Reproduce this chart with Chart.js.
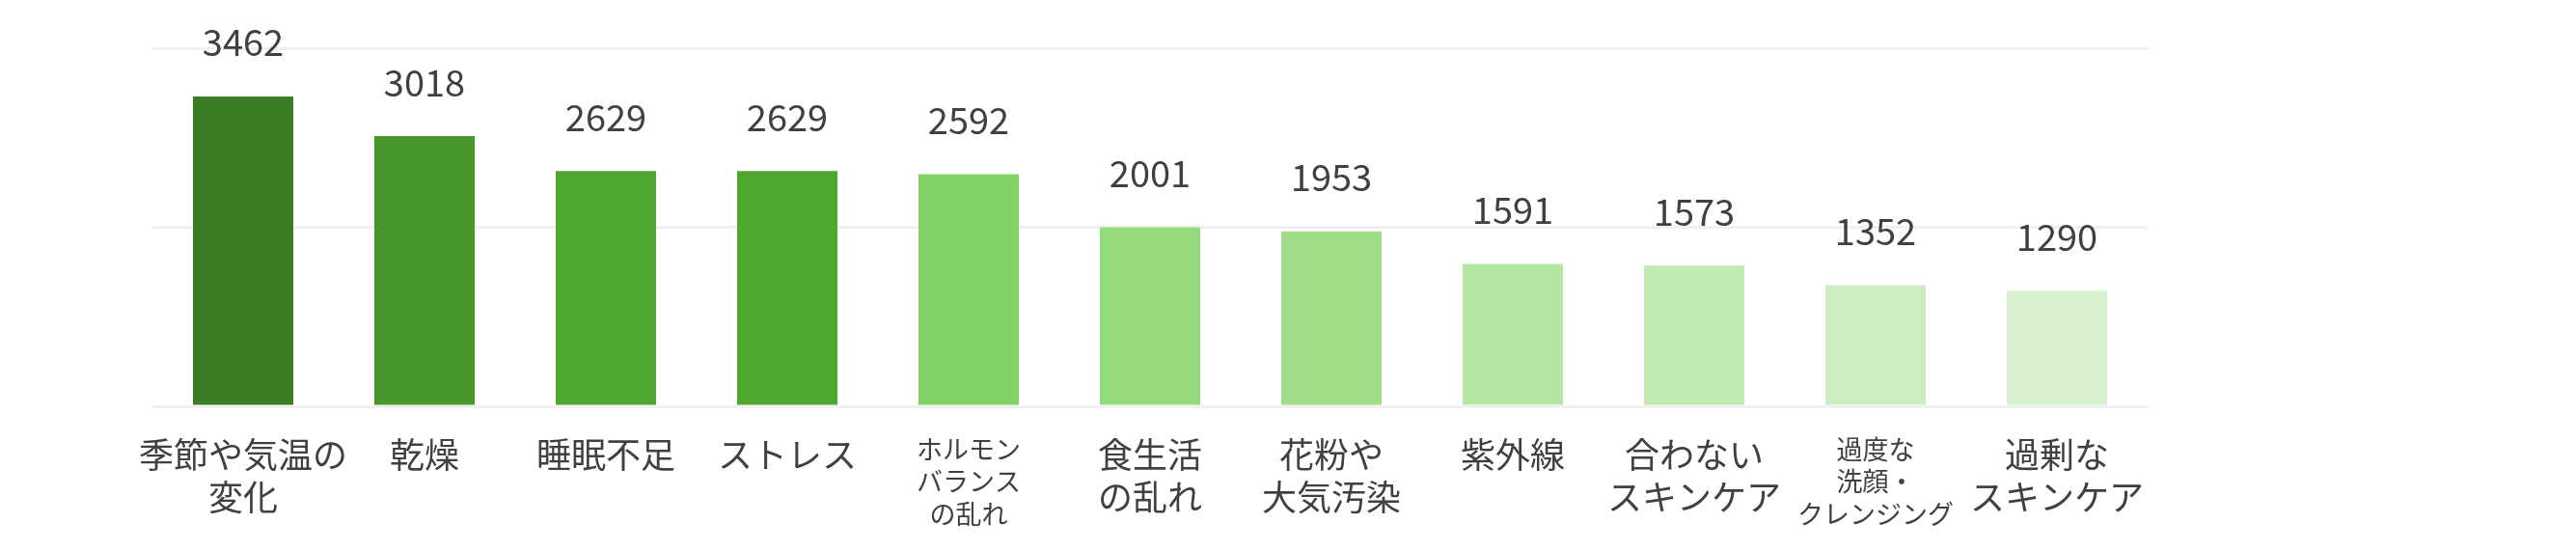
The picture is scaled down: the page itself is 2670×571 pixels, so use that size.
<!DOCTYPE html>
<html>
<head>
<meta charset="utf-8">
<script src="https://cdn.jsdelivr.net/npm/chart.js@4/dist/chart.umd.min.js"></script>
<style>
  html, body { margin: 0; padding: 0; background: #ffffff; }
  #wrap { width: 2670px; height: 571px; position: relative; }
</style>
</head>
<body>
<div id="wrap"><canvas id="c" width="2670" height="571"></canvas></div>
<script>
const categories = [
  ['季節や気温の', '変化'],
  '乾燥',
  '睡眠不足',
  'ストレス',
  ['ホルモン', 'バランス', 'の乱れ'],
  ['食生活', 'の乱れ'],
  ['花粉や', '大気汚染'],
  '紫外線',
  ['合わない', 'スキンケア'],
  ['過度な', '洗顔・', 'クレンジング'],
  ['過剰な', 'スキンケア']
];
const values = [3462, 3018, 2629, 2629, 2592, 2001, 1953, 1591, 1573, 1352, 1290];
const barColors = ['#3b7d23', '#47962a', '#4ea72e', '#4ea72e', '#83d265', '#95db7c',
                   '#a0de8a', '#b4e6a2', '#c2eab3', '#cdeec2', '#d8f2cf'];
const smallLabelIdx = [4, 9];
const yMax = 4000;
const yStep = 2000;

const FONT = '"Noto Sans CJK JP", "Noto Sans", sans-serif';

const valueLabels = {
  id: 'valueLabels',
  afterDatasetsDraw(chart) {
    const ctx = chart.ctx;
    const meta = chart.getDatasetMeta(0);
    ctx.save();
    ctx.font = '38px ' + FONT;
    ctx.fillStyle = '#404040';
    ctx.textAlign = 'center';
    ctx.textBaseline = 'middle';
    meta.data.forEach((bar, i) => {
      ctx.fillText(String(values[i]), bar.x, bar.y - 56);
    });
    ctx.restore();
  }
};

new Chart(document.getElementById('c'), {
  type: 'bar',
  data: {
    labels: categories,
    datasets: [{
      data: values,
      backgroundColor: barColors,
      borderWidth: 0,
      barPercentage: 0.553,
      categoryPercentage: 1.0
    }]
  },
  options: {
    responsive: false,
    animation: false,
    devicePixelRatio: 1,
    layout: { padding: { left: 158, right: 444, top: 50, bottom: 0 } },
    plugins: {
      legend: { display: false },
      tooltip: { enabled: false }
    },
    scales: {
      x: {
        grid: { display: false, drawTicks: false },
        border: { display: false },
        ticks: {
          color: '#404040',
          padding: 28,
          maxRotation: 0,
          autoSkip: false,
          font: (ctx) => {
            const small = smallLabelIdx.includes(ctx.index);
            return { family: FONT, size: small ? 27 : 36, lineHeight: small ? 1.24 : 1.22 };
          }
        },
        afterFit: (scale) => { scale.height = 150; }
      },
      y: {
        min: 0,
        max: yMax,
        ticks: { display: false, stepSize: yStep },
        grid: { color: '#f0f0f0', lineWidth: 3, drawTicks: false },
        border: { display: false }
      }
    }
  },
  plugins: [valueLabels]
});
</script>
</body>
</html>
